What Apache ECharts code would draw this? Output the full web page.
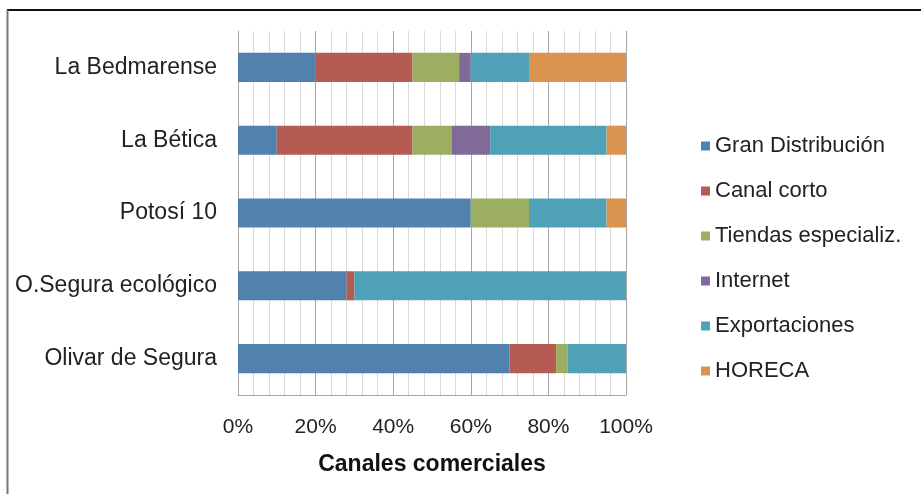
<!DOCTYPE html>
<html>
<head>
<meta charset="utf-8">
<title>Canales comerciales</title>
<script src="https://cdn.jsdelivr.net/npm/echarts@6/dist/echarts.min.js"></script>
<style>
  html, body { margin: 0; padding: 0; background: #fff; }
  #chart { width: 921px; height: 494px; }
</style>
</head>
<body>
<div id="chart"></div>
<script>
// categorias de arriba a abajo
var marcas = ['La Bedmarense', 'La Bética', 'Potosí 10', 'O.Segura ecológico', 'Olivar de Segura'];

// porcentaje por canal (mismo orden que marcas)
var granDistribucion = [20, 10, 60, 28, 70];
var canalCorto       = [25, 35, 0, 2, 12];
var tiendasEspec     = [12, 10, 15, 0, 3];
var internet         = [3, 10, 0, 0, 0];
var exportaciones    = [15, 30, 20, 70, 15];
var horeca           = [25, 5, 5, 0, 0];

var canales = ['Gran Distribución', 'Canal corto', 'Tiendas especializ.', 'Internet', 'Exportaciones', 'HORECA'];
var valores = [granDistribucion, canalCorto, tiendasEspec, internet, exportaciones, horeca];
var colores = ['#5181AD', '#B55B52', '#9BAE61', '#806A98', '#4EA1B6', '#DB9450'];

var fuente = '"Liberation Sans", Arial, sans-serif';

var series = [];
for (var i = 0; i < canales.length; i++) {
  series.push({
    name: canales[i],
    type: 'bar',
    stack: 'total',
    barCategoryGap: '60%',
    itemStyle: { color: colores[i] },
    data: valores[i]
  });
}

var myChart = echarts.init(document.getElementById('chart'));
myChart.setOption({
  animation: false,
  grid: { left: 238, right: 295, top: 31, bottom: 99 },
  legend: {
    orient: 'vertical',
    left: 696,
    top: 130,
    itemWidth: 9,
    itemHeight: 9,
    itemGap: 23,
    icon: 'rect',
    textStyle: { fontFamily: fuente, fontSize: 22, color: '#222', lineHeight: 22 },
    data: canales
  },
  xAxis: {
    type: 'value',
    min: 0,
    max: 100,
    interval: 20,
    name: 'Canales comerciales',
    nameLocation: 'middle',
    nameGap: 58,
    nameTextStyle: { fontFamily: fuente, fontSize: 23, fontWeight: 'bold', color: '#111' },
    axisLabel: { formatter: '{value}%', fontFamily: fuente, fontSize: 21, color: '#222', margin: 22 },
    axisLine: { show: true, lineStyle: { color: '#a6a6a6' } },
    axisTick: { show: false },
    splitLine: { show: true, lineStyle: { color: '#a6a6a6', width: 1 } },
    minorTick: { show: false, splitNumber: 5 },
    minorSplitLine: { show: true, lineStyle: { color: '#d9d9d9', width: 1 } }
  },
  yAxis: {
    type: 'category',
    inverse: true,
    data: marcas,
    axisLine: { show: true, lineStyle: { color: '#a6a6a6' } },
    axisTick: { show: false },
    axisLabel: { fontFamily: fuente, fontSize: 23, color: '#222', margin: 21, padding: [4, 0, 0, 0] }
  },
  graphic: [
    { type: 'line', shape: { x1: 7, y1: 10, x2: 921, y2: 10 }, style: { stroke: '#111', lineWidth: 2 } },
    { type: 'line', shape: { x1: 7.5, y1: 10, x2: 7.5, y2: 494 }, style: { stroke: '#777', lineWidth: 2 } }
  ],
  series: series
});
</script>
</body>
</html>
